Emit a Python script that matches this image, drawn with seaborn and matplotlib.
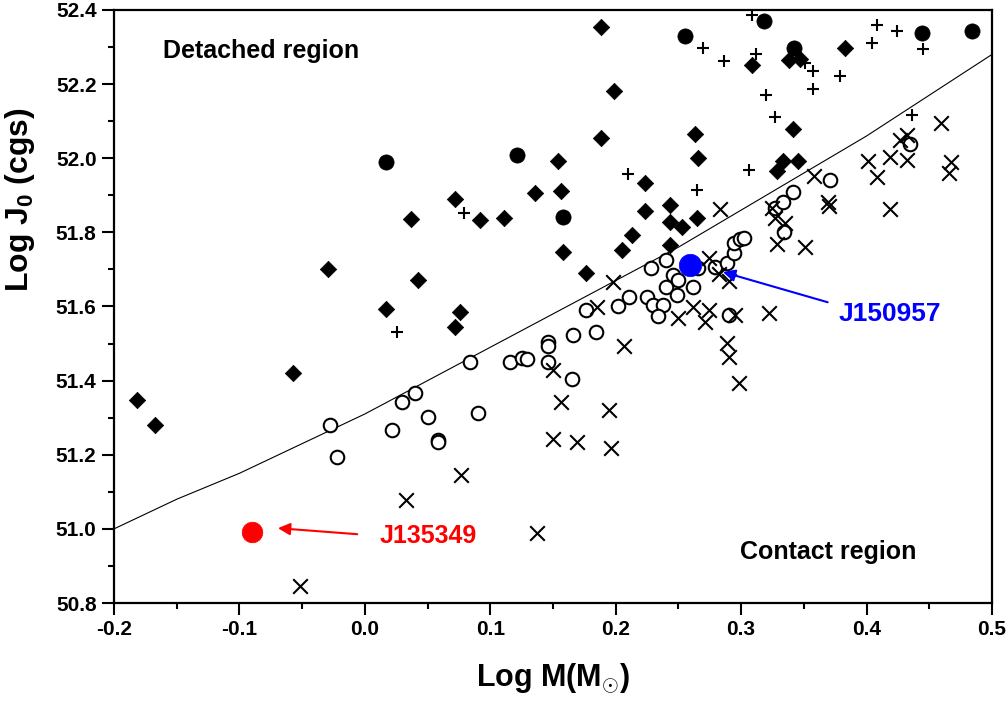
import numpy as np
import pandas as pd
import matplotlib
matplotlib.use("Agg")
import matplotlib.pyplot as plt
import seaborn as sns

# detached systems (filled diamonds)
diamond_x = [-0.182, -0.167, -0.057, -0.029, 0.017, 0.037, 0.042, 0.072, 0.072, 0.076,
             0.092, 0.111, 0.136, 0.156, 0.154, 0.158, 0.176, 0.188, 0.188, 0.199,
             0.205, 0.213, 0.223, 0.223, 0.243, 0.243, 0.253, 0.243, 0.265, 0.263,
             0.266, 0.309, 0.338, 0.347, 0.341, 0.333, 0.345, 0.329, 0.383]
diamond_y = [51.348, 51.280, 51.420, 51.701, 51.593, 51.836, 51.671, 51.890, 51.545, 51.585,
             51.833, 51.839, 51.906, 51.912, 51.993, 51.747, 51.690, 52.354, 52.055, 52.181,
             51.752, 51.793, 51.933, 51.858, 51.874, 51.828, 51.814, 51.766, 51.839, 52.065,
             52.001, 52.252, 52.265, 52.268, 52.079, 51.993, 51.993, 51.966, 52.297]

# filled circles
dot_x = [0.017, 0.121, 0.158, 0.255, 0.318, 0.342, 0.444, 0.484]
dot_y = [51.990, 52.009, 51.841, 52.330, 52.370, 52.297, 52.338, 52.343]

# plus signs
plus_x = [0.026, 0.079, 0.210, 0.265, 0.306, 0.309, 0.270, 0.286, 0.312, 0.351,
          0.357, 0.379, 0.357, 0.320, 0.327, 0.408, 0.424, 0.404, 0.445, 0.436]
plus_y = [51.531, 51.852, 51.957, 51.914, 51.968, 52.387, 52.297, 52.262, 52.281, 52.257,
          52.235, 52.222, 52.187, 52.171, 52.111, 52.360, 52.343, 52.311, 52.295, 52.117]

# contact systems (open circles)
ring_x = [-0.028, -0.022, 0.022, 0.030, 0.040, 0.050, 0.058, 0.058, 0.084, 0.090,
          0.116, 0.125, 0.129, 0.146, 0.146, 0.146, 0.165, 0.166, 0.176, 0.184,
          0.202, 0.211, 0.225, 0.228, 0.230, 0.238, 0.234, 0.240, 0.240, 0.246,
          0.250, 0.249, 0.262, 0.266, 0.279, 0.289, 0.294, 0.294, 0.299, 0.302,
          0.290, 0.327, 0.333, 0.341, 0.334, 0.371, 0.435]
ring_y = [51.280, 51.194, 51.267, 51.342, 51.367, 51.302, 51.240, 51.235, 51.450, 51.313,
          51.450, 51.461, 51.458, 51.504, 51.493, 51.450, 51.404, 51.523, 51.590, 51.531,
          51.601, 51.626, 51.626, 51.704, 51.604, 51.604, 51.574, 51.725, 51.653, 51.685,
          51.671, 51.631, 51.653, 51.704, 51.707, 51.717, 51.744, 51.771, 51.782, 51.785,
          51.577, 51.866, 51.882, 51.909, 51.801, 51.941, 52.038]

# crosses
cross_x = [-0.052, 0.033, 0.077, 0.137, 0.150, 0.150, 0.156, 0.169, 0.185, 0.195,
           0.198, 0.196, 0.207, 0.250, 0.262, 0.271, 0.274, 0.274, 0.282, 0.290,
           0.283, 0.289, 0.290, 0.295, 0.298, 0.322, 0.325, 0.327, 0.335, 0.329,
           0.351, 0.358, 0.369, 0.370, 0.401, 0.408, 0.419, 0.432, 0.427, 0.432,
           0.419, 0.459, 0.467, 0.466]
cross_y = [50.846, 51.078, 51.145, 50.989, 51.429, 51.242, 51.342, 51.234, 51.599, 51.321,
           51.666, 51.218, 51.493, 51.569, 51.599, 51.558, 51.590, 51.731, 51.688, 51.669,
           51.863, 51.501, 51.464, 51.577, 51.394, 51.582, 51.866, 51.839, 51.825, 51.769,
           51.761, 51.952, 51.882, 51.871, 51.993, 51.949, 52.003, 51.995, 52.049, 52.063,
           51.863, 52.095, 51.990, 51.960]

# boundary curve
curve_x = [-0.20, -0.15, -0.10, -0.05, 0.00, 0.05, 0.10, 0.15, 0.20, 0.25, 0.30, 0.35, 0.40, 0.45, 0.50]
curve_y = [51.00, 51.08, 51.15, 51.23, 51.31, 51.40, 51.49, 51.58, 51.67, 51.76, 51.86, 51.96, 52.06, 52.17, 52.28]

# the two targets
blue_name, blue_x, blue_y = "J150957", 0.259, 51.712
red_name, red_x, red_y = "J135349", -0.090, 50.991

sns.set_style("ticks")
plt.rcParams["font.family"] = ["Liberation Sans", "DejaVu Sans"]
plt.rcParams["font.weight"] = "bold"
plt.rcParams["text.color"] = "black"
plt.rcParams["axes.labelcolor"] = "black"
plt.rcParams["axes.edgecolor"] = "black"
plt.rcParams["xtick.color"] = "black"
plt.rcParams["ytick.color"] = "black"
plt.rcParams["mathtext.fontset"] = "custom"
plt.rcParams["mathtext.rm"] = "Liberation Sans:bold"
plt.rcParams["mathtext.bf"] = "Liberation Sans:bold"
plt.rcParams["mathtext.it"] = "Liberation Sans:bold"

fig = plt.figure(figsize=(10.08, 7.02), dpi=100)
ax = fig.add_axes([0.1131, 0.141, 0.8710, 0.8448])

sns.lineplot(x=curve_x, y=curve_y, color="black", lw=0.8, sort=False, estimator=None, ax=ax, zorder=1)

sns.scatterplot(x=ring_x, y=ring_y, marker="o", s=95, color="white", edgecolor="black",
                linewidth=1.5, ax=ax, zorder=2)
sns.scatterplot(x=cross_x, y=cross_y, marker="x", s=110, color="black", linewidth=1.5, ax=ax, zorder=3)
sns.scatterplot(x=plus_x, y=plus_y, marker="+", s=80, color="black", linewidth=1.5, ax=ax, zorder=3)
sns.scatterplot(x=diamond_x, y=diamond_y, marker="D", s=70, color="black", edgecolor="black",
                linewidth=0.5, ax=ax, zorder=4)
sns.scatterplot(x=dot_x, y=dot_y, marker="o", s=120, color="black", edgecolor="black",
                linewidth=0.5, ax=ax, zorder=4)
sns.scatterplot(x=[blue_x], y=[blue_y], marker="o", s=260, color="blue", edgecolor="blue",
                linewidth=0.5, ax=ax, zorder=5)
sns.scatterplot(x=[red_x], y=[red_y], marker="o", s=220, color="red", edgecolor="red",
                linewidth=0.5, ax=ax, zorder=5)

ax.annotate(blue_name, xy=(0.2855, 51.693), xytext=(0.378, 51.58), color="blue",
            fontsize=19, fontweight="bold", va="center", ha="left",
            arrowprops=dict(arrowstyle="-|>", color="blue", lw=1.5, mutation_scale=18,
                            shrinkA=6, shrinkB=0, relpos=(0, 0.85)))
ax.annotate(red_name, xy=(-0.0693, 51.002), xytext=(0.012, 50.981), color="red",
            fontsize=18, fontweight="bold", va="center", ha="left",
            arrowprops=dict(arrowstyle="-|>", color="red", lw=1.5, mutation_scale=18,
                            shrinkA=14, shrinkB=0, relpos=(0, 0.5)))

ax.text(-0.161, 52.29, "Detached region", fontsize=18, fontweight="bold", va="center", ha="left")
ax.text(0.299, 50.937, "Contact region", fontsize=18, fontweight="bold", va="center", ha="left")

ax.set_xlim(-0.2, 0.5)
ax.set_ylim(50.8, 52.4)
ax.set_xticks(np.arange(-0.2, 0.501, 0.1))
ax.set_xticks(np.arange(-0.15, 0.5, 0.1), minor=True)
ax.set_yticks(np.arange(50.8, 52.401, 0.2))
ax.set_yticks(np.arange(50.9, 52.4, 0.2), minor=True)
ax.set_xticklabels([f"{v:.1f}" for v in np.arange(-0.2, 0.501, 0.1)])
ax.set_yticklabels([f"{v:.1f}" for v in np.arange(50.8, 52.401, 0.2)])
ax.tick_params(which="major", direction="out", length=8.5, width=1.5, labelsize=15, pad=4)
ax.tick_params(which="minor", direction="out", length=4.5, width=1.5)
ax.tick_params(top=False, right=False)
for lab in ax.get_xticklabels() + ax.get_yticklabels():
    lab.set_fontweight("bold")
for sp in ax.spines.values():
    sp.set_linewidth(1.6)
    sp.set_color("black")

ax.set_xlabel(r"Log M(M$_{\odot}$)", fontsize=22, fontweight="bold", labelpad=16)
ax.set_ylabel(r"Log J$_{0}$ (cgs)", fontsize=23, fontweight="bold")
ax.yaxis.set_label_coords(-0.088, 0.68)

fig.savefig("out.png", dpi=100)
